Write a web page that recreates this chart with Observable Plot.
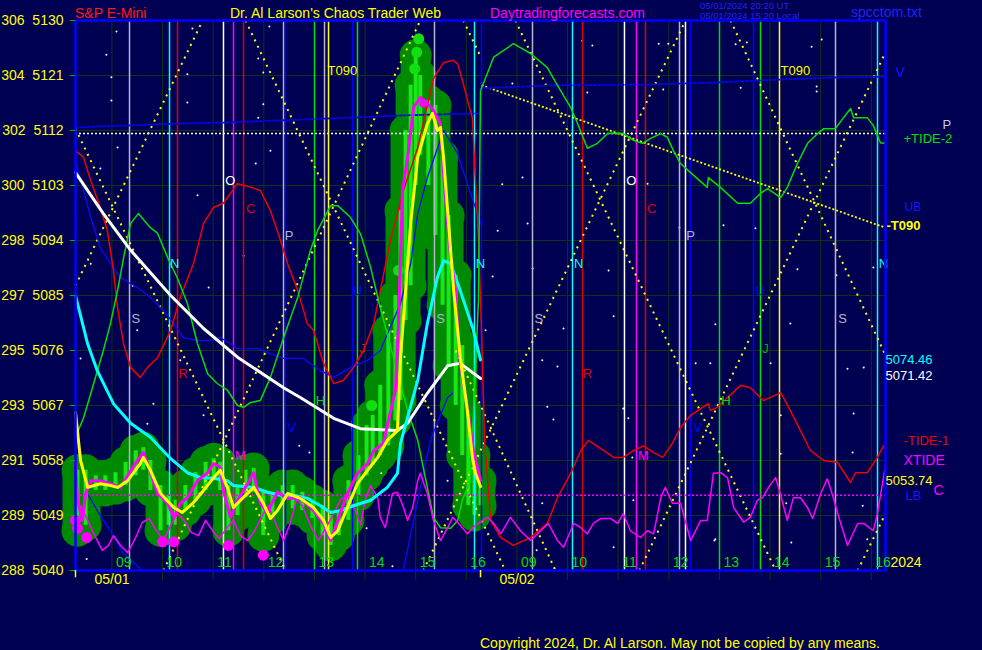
<!DOCTYPE html>
<html>
<head>
<meta charset="utf-8">
<script src="https://cdn.jsdelivr.net/npm/d3@7"></script>
<script src="https://cdn.jsdelivr.net/npm/@observablehq/plot@0.6"></script>
<style>
  html, body { margin:0; padding:0; background:#000052; }
  #wrap { position:relative; width:982px; height:650px; overflow:hidden; background:#000052;
          font-family:"Liberation Sans", Arial, sans-serif; }
  #chart { position:absolute; left:0; top:0; }
  .t { position:absolute; white-space:nowrap; font-size:14px; line-height:14px; }
  .s { font-size:9.5px; line-height:10px; }
</style>
</head>
<body>
<div id="wrap">
  <div id="chart"></div>
  <div class="t" style="left:75px;top:6px;color:#ff1a1a">S&amp;P E-Mini</div>
  <div class="t" style="left:230px;top:6px;color:#ffff00">Dr. Al Larson's Chaos Trader Web</div>
  <div class="t" style="left:490px;top:6px;color:#ff00ff">Daytradingforecasts.com</div>
  <div class="t s" style="left:700px;top:1px;color:#2020ff">05/01/2024 20:20 UT</div>
  <div class="t s" style="left:700px;top:11px;color:#2020ff">05/01/2024 15:20 Local</div>
  <div class="t" style="left:851px;top:5px;color:#2020ff">spcctom.txt</div>
  <div class="t" style="left:480px;top:636px;color:#ffff00">Copyright 2024, Dr. Al Larson. May not be copied by any means.</div>
</div>
<script>
// x = session hours (two 8-hour sessions: 05/01 then 05/02), y = S&P E-mini price
const yTicks = [5040, 5049, 5058, 5067, 5076, 5085, 5094, 5103, 5112, 5121, 5130];
const yLeftLabels = ["288", "289", "291", "293", "295", "297", "298", "300", "302", "304", "306"];
const hourLabels = [9, 10, 11, 12, 13, 14, 15, 16];
const dayLabels = ["05/01", "05/02"];
const sessionStartClock = 8.28; // clock hour at start of each session

// price bars: [t, low, high]
const bars = [[0.04,5046.5,5056.4],[0.20,5047.4,5056.4],[0.40,5053.1,5055.5],[0.59,5053.1,5055.5],[0.79,5053.4,5056.0],[0.99,5053.9,5057.7],[1.19,5055.5,5059.6],[1.34,5056.4,5060.1],[1.48,5053.1,5058.0],[1.68,5046.5,5053.9],[1.84,5047.4,5052.3],[1.98,5047.4,5051.5],[2.17,5049.8,5053.9],[2.37,5051.5,5056.0],[2.57,5053.1,5057.7],[2.73,5054.7,5058.3],[2.86,5053.1,5057.7],[3.02,5046.5,5053.9],[3.20,5049.0,5053.9],[3.36,5051.9,5056.4],[3.52,5052.8,5056.7],[3.71,5045.7,5053.1],[3.89,5048.5,5052.3],[4.09,5050.6,5053.9],[4.29,5050.1,5053.9],[4.48,5049.8,5052.8],[4.68,5048.5,5051.5],[4.88,5045.7,5050.6],[5.04,5044.1,5049.0],[5.20,5045.7,5049.8],[5.39,5048.2,5054.7],[5.59,5052.3,5058.8],[5.75,5055.5,5063.7],[5.87,5057.2,5065.4],[6.02,5058.8,5070.3],[6.18,5060.4,5079.3],[6.32,5064.5,5085.0],[6.42,5067.8,5098.9],[6.52,5080.9,5112.0],[6.62,5086.6,5119.4],[6.72,5103.0,5124.3],[6.81,5107.9,5121.0],[6.97,5103.0,5116.9],[7.11,5094.8,5116.1],[7.25,5083.4,5107.9],[7.37,5073.5,5098.1],[7.51,5067.0,5088.3],[7.64,5058.8,5076.8],[7.76,5050.6,5065.4],[7.88,5049.0,5058.8],[8.00,5050.6,5054.7]];
const limeDots = [[6.78,5127.0],[6.74,5124.8],[6.70,5122.1],[6.38,5089.1],[5.85,5067.0]];
const lowDots = [[0,5048.2],[0.04,5046.9],[0.22,5045.4],[1.72,5044.7],[1.94,5044.7],[3.02,5044.1],[3.71,5042.5]];
const highDots = [[6.87,5116.4]];

const priceLine = [[0,5058.0],[0.04,5051.5],[0.14,5048.2],[0.20,5052.6],[0.30,5054.7],[0.49,5054.7],[0.69,5054.2],[0.89,5053.6],[1.03,5055.5],[1.22,5058.0],[1.34,5059.3],[1.42,5057.5],[1.62,5052.6],[1.82,5051.0],[1.94,5048.7],[2.07,5051.0],[2.21,5051.9],[2.41,5054.7],[2.61,5056.0],[2.73,5057.5],[2.86,5056.9],[2.92,5053.1],[3.06,5048.7],[3.20,5051.5],[3.40,5054.2],[3.52,5056.0],[3.65,5051.0],[3.79,5049.5],[3.99,5052.8],[4.19,5051.8],[4.44,5051.9],[4.70,5049.8],[4.90,5047.7],[5.04,5044.9],[5.18,5048.2],[5.37,5052.6],[5.57,5055.9],[5.77,5057.5],[5.89,5059.6],[6.08,5060.8],[6.32,5069.5],[6.38,5080.4],[6.42,5091.2],[6.46,5102.2],[6.56,5107.6],[6.68,5115.8],[6.81,5117.4],[6.95,5116.4],[7.07,5115.3],[7.21,5113.1],[7.27,5105.0],[7.35,5096.8],[7.41,5091.2],[7.51,5085.8],[7.55,5079.3],[7.60,5073.9],[7.74,5066.7],[7.86,5059.6],[8.00,5054.7]];
const smoothLine = [[0,5065.9],[0.10,5058.0],[0.24,5053.6],[0.49,5054.2],[0.69,5053.9],[0.83,5053.6],[1.03,5054.7],[1.28,5057.5],[1.34,5058.5],[1.48,5056.4],[1.68,5052.6],[1.94,5050.3],[2.11,5049.5],[2.33,5051.1],[2.53,5053.1],[2.73,5055.2],[2.86,5056.4],[3.00,5053.6],[3.12,5050.3],[3.26,5051.5],[3.52,5053.6],[3.71,5051.0],[3.85,5048.5],[3.99,5049.8],[4.19,5052.6],[4.44,5051.8],[4.70,5050.3],[4.90,5048.2],[5.04,5045.4],[5.18,5046.5],[5.37,5050.3],[5.57,5054.2],[5.77,5056.4],[5.97,5058.5],[6.16,5061.3],[6.36,5062.9],[6.42,5074.9],[6.52,5085.8],[6.62,5096.8],[6.76,5107.6],[6.95,5113.1],[7.05,5114.8],[7.15,5112.0],[7.21,5112.5],[7.27,5107.6],[7.37,5096.8],[7.47,5085.8],[7.60,5074.9],[7.74,5066.2],[7.84,5058.5],[7.90,5055.9],[8.00,5053.74]];
const cyanAvg = [[0,5085.0],[0.24,5077.1],[0.43,5072.7],[0.75,5067.3],[1.09,5064.1],[1.48,5061.8],[1.88,5058.3],[2.21,5056.0],[2.47,5055.2],[2.73,5055.1],[3.00,5054.7],[3.12,5053.9],[3.52,5053.6],[3.79,5052.8],[4.05,5052.3],[4.31,5052.3],[4.58,5051.8],[4.84,5050.6],[5.04,5049.5],[5.23,5049.8],[5.49,5050.6],[5.83,5051.5],[6.16,5053.6],[6.36,5055.9],[6.42,5060.8],[6.76,5071.1],[6.95,5080.4],[7.15,5088.0],[7.27,5090.7],[7.41,5090.2],[7.60,5085.8],[7.86,5079.3],[8.00,5074.46]];
const whiteAvg = [[0,5105.1],[0.55,5098.4],[1.09,5092.4],[1.88,5085.0],[2.53,5079.6],[3.20,5074.9],[4.11,5069.9],[4.44,5068.3],[4.64,5067.3],[5.10,5064.9],[5.63,5063.2],[6.36,5062.9],[6.56,5064.1],[6.95,5069.0],[7.35,5073.5],[7.60,5073.9],[8.00,5071.42]];

const tide1 = [[0,5108.7],[0.16,5107.6],[0.30,5103.8],[0.49,5099.4],[0.63,5095.6],[0.75,5089.1],[0.83,5083.0],[0.95,5077.1],[1.09,5073.2],[1.28,5071.6],[1.42,5073.2],[1.62,5074.8],[1.88,5079.3],[2.07,5084.7],[2.33,5090.2],[2.53,5096.8],[2.73,5099.4],[2.92,5100.1],[3.06,5101.7],[3.20,5103.3],[3.46,5102.7],[3.65,5102.2],[3.85,5098.9],[4.05,5094.0],[4.19,5090.2],[4.39,5085.8],[4.58,5080.4],[4.70,5079.3],[4.90,5073.9],[5.10,5070.6],[5.29,5071.1],[5.49,5073.2],[5.69,5076.0],[5.89,5080.4],[6.22,5094.0],[6.48,5102.2],[6.76,5109.2],[7.07,5120.5],[7.27,5123.1],[7.45,5123.5],[7.55,5122.9],[7.66,5119.7],[7.76,5116.4],[7.84,5114.1],[7.90,5103.8],[7.96,5094.0],[8.02,5079.3],[8.08,5061.3],[8.20,5048.2],[8.40,5045.4],[8.65,5044.1],[8.99,5045.4],[9.32,5047.7],[9.52,5051.9],[9.78,5055.9],[9.98,5059.6],[10.13,5061.3],[10.51,5059.2],[10.63,5058.5],[10.82,5058.5],[11.02,5059.6],[11.22,5060.4],[11.42,5059.3],[11.60,5058.5],[11.79,5060.8],[11.95,5063.4],[12.15,5065.4],[12.50,5067.3],[12.54,5066.2],[12.68,5066.7],[12.88,5068.3],[13.14,5070.3],[13.33,5069.9],[13.59,5067.8],[13.93,5069.1],[14.12,5066.2],[14.32,5062.9],[14.52,5059.6],[14.78,5058.0],[15.05,5057.7],[15.31,5054.4],[15.41,5056.0],[15.64,5056.0],[15.84,5058.5],[15.96,5060.4]];
const tide2 = [[0,5061.8],[0.16,5065.0],[0.36,5070.6],[0.55,5076.0],[0.69,5080.4],[0.83,5085.8],[0.95,5091.2],[1.09,5096.8],[1.24,5098.4],[1.48,5096.1],[1.62,5095.2],[1.82,5091.2],[2.01,5087.9],[2.21,5083.7],[2.41,5077.1],[2.61,5072.2],[2.80,5070.6],[3.00,5069.5],[3.20,5067.0],[3.32,5066.7],[3.46,5067.5],[3.65,5067.8],[3.85,5071.6],[4.11,5078.1],[4.39,5084.7],[4.64,5092.4],[4.78,5095.6],[5.04,5099.7],[5.18,5099.7],[5.43,5097.8],[5.63,5095.1],[5.83,5089.6],[6.02,5083.0],[6.28,5074.9],[6.56,5066.2],[6.76,5061.3],[7.07,5048.7],[7.21,5047.0],[7.41,5046.9],[7.55,5048.2],[7.64,5051.5],[7.80,5054.7],[7.96,5084.2],[8.00,5118.5],[8.26,5124.0],[8.65,5126.2],[8.99,5124.6],[9.32,5122.3],[9.52,5119.4],[9.78,5115.8],[9.92,5113.1],[10.11,5109.1],[10.31,5109.9],[10.51,5111.5],[10.82,5111.5],[11.02,5110.4],[11.20,5109.9],[11.36,5110.7],[11.56,5111.5],[11.69,5110.9],[11.81,5108.7],[11.95,5106.6],[12.15,5105.1],[12.48,5102.7],[12.50,5104.3],[12.74,5102.7],[13.08,5100.1],[13.33,5100.1],[13.53,5101.7],[13.67,5102.5],[13.93,5101.0],[14.06,5102.7],[14.26,5106.6],[14.46,5109.9],[14.66,5111.5],[14.78,5112.3],[15.01,5112.3],[15.17,5114.1],[15.31,5115.6],[15.37,5114.1],[15.64,5114.1],[15.76,5112.8],[15.90,5110.0],[15.98,5109.9]];
const blueA = [[0,5107.1],[0.16,5102.2],[0.30,5097.8],[0.49,5092.8],[0.69,5090.2],[0.89,5087.9],[1.22,5086.3],[1.48,5084.7],[1.74,5082.5],[1.94,5080.4],[2.13,5078.1],[2.41,5077.6],[2.67,5077.6],[2.86,5078.1],[3.06,5077.1],[3.20,5076.3],[3.60,5076.3],[3.85,5075.5],[4.11,5074.7],[4.50,5074.7],[4.84,5072.7],[5.10,5071.6],[5.43,5073.2],[5.77,5074.4],[6.02,5076.0],[6.42,5083.7],[6.62,5090.2],[6.76,5098.4],[6.95,5104.3],[7.27,5112.0],[7.55,5108.2],[7.74,5103.3],[7.94,5098.4],[8.02,5096.5]];
const blueB = [[0.26,5052.3],[0.43,5049.8],[0.69,5046.5],[0.95,5042.8],[1.28,5040.3]];
const blueC = [[6.48,5040.3],[6.72,5049.8],[7.01,5061.3],[7.35,5068.3],[7.45,5069.0]];
const xtide = [[0.10,5050.6],[0.26,5047.9],[0.41,5045.2],[0.53,5043.3],[0.65,5044.1],[0.75,5045.7],[0.89,5044.1],[1.03,5042.9],[1.19,5045.4],[1.32,5047.9],[1.46,5048.5],[1.60,5046.5],[1.74,5044.9],[1.88,5047.4],[2.01,5049.3],[2.15,5048.2],[2.29,5046.2],[2.43,5045.7],[2.57,5048.2],[2.71,5046.5],[2.84,5045.2],[2.98,5046.9],[3.12,5048.2],[3.26,5045.7],[3.40,5044.9],[3.54,5046.5],[3.69,5049.0],[3.81,5050.6],[3.97,5047.4],[4.11,5044.9],[4.25,5047.9],[4.37,5051.8],[4.48,5050.6],[4.64,5047.4],[4.80,5044.9],[4.94,5046.9],[5.08,5049.0],[5.23,5051.5],[5.37,5052.3],[5.53,5049.8],[5.63,5047.4],[5.73,5051.8],[5.83,5053.9],[5.97,5051.9],[6.02,5048.7],[6.12,5047.0],[6.26,5052.6],[6.36,5052.8],[6.48,5050.3],[6.56,5048.2],[6.66,5050.3],[6.76,5054.7],[6.81,5055.9],[6.95,5052.6],[7.07,5048.2],[7.21,5044.9],[7.35,5047.0],[7.45,5048.7],[7.60,5047.4],[7.74,5046.0],[7.90,5047.4],[8.14,5048.7],[8.26,5047.7],[8.40,5046.0],[8.59,5048.7],[8.79,5046.5],[8.99,5044.9],[9.19,5046.5],[9.34,5047.7],[9.52,5044.9],[9.64,5043.8],[9.84,5047.7],[9.98,5047.0],[10.11,5046.0],[10.23,5047.7],[10.37,5048.5],[10.57,5048.5],[10.71,5047.7],[10.82,5049.3],[10.96,5046.5],[11.16,5045.4],[11.30,5046.5],[11.42,5046.0],[11.56,5051.9],[11.65,5053.6],[11.79,5051.0],[11.95,5051.0],[12.15,5044.9],[12.35,5048.2],[12.48,5048.2],[12.60,5055.9],[12.74,5056.0],[12.88,5055.2],[13.00,5050.3],[13.20,5047.9],[13.33,5048.7],[13.47,5051.5],[13.57,5051.9],[13.69,5053.6],[13.83,5055.2],[13.93,5052.3],[14.06,5048.2],[14.18,5051.9],[14.32,5051.9],[14.46,5050.3],[14.56,5048.5],[14.72,5052.6],[14.85,5055.0],[14.97,5051.9],[15.05,5049.5],[15.25,5044.1],[15.45,5047.7],[15.57,5047.7],[15.76,5046.5],[15.84,5049.3],[15.94,5054.2],[16.00,5057.2]];

// dotted levels and trend lines
const levelP = 5111.5;      // white dotted
const levelC = 5052.3;      // magenta dotted
const blueDotted1 = [[0,5112.5],[1.88,5113.1],[2.92,5113.3],[4.50,5113.8],[6.56,5114.5],[8.00,5114.8]];
const blueDotted2 = [[8.02,5118.9],[9.44,5119.4],[11.16,5119.5],[12.48,5119.8],[13.79,5120.3],[15.11,5120.7],[16,5120.8]];
const t090Line = [[8.02,5119.4,16,5096.1]];
// diagonal dotted angle lines: [t1, p1, t2, p2]
const angleLines = [[0,5112.3,4.15,5040],[0,5086.6,2.51,5130],[3.36,5130,8.49,5040],[1.74,5040,6.81,5130],[7.66,5130,8.02,5123.8],[7.51,5076.0,9.48,5040],[6.87,5040,12.05,5130],[8.69,5130,13.83,5040],[12.94,5130,16,5075.2],[11.14,5040,16,5124.8],[15.45,5040,16,5049.3]];

// vertical event lines [t, kind]
const eventLines = [[1.067,"silver"],[1.857,"cyan"],[2.015,"red"],[2.923,"white"],[3.121,"magenta"],[3.319,"red"],[4.109,"silver"],[4.148,"blue"],[4.721,"green"],[4.919,"silver"],[4.998,"yellow"],[5.472,"blue"],[5.570,"green"],[7.091,"silver"],[7.881,"cyan"],[8.020,"blue"],[9.027,"silver"],[9.817,"cyan"],[10.015,"red"],[10.844,"white"],[11.081,"magenta"],[11.259,"red"],[11.931,"silver"],[12.049,"white"],[12.148,"blue"],[12.721,"green"],[13.393,"blue"],[13.531,"green"],[13.906,"yellow"],[15.012,"silver"],[15.842,"cyan"]];
// letters [text, t, price, kind]
const letters = [["S",1.19,5081.2,"silver"],["N",1.96,5090.2,"cyan"],["O",3.06,5103.8,"white"],["C",3.46,5099.2,"red"],["P",4.22,5094.8,"silver"],["R",2.12,5072.2,"red"],["H",4.84,5067.8,"green"],["M",3.26,5058.8,"magenta"],["U",5.57,5085.8,"blue"],["J",5.67,5076.3,"jred"],["V",4.27,5063.4,"blue"],["T090",5.27,5121.8,"yellow"],["S",7.21,5081.2,"silver"],["N",8.0,5090.2,"cyan"],
  ["S",9.15,5081.2,"silver"],["N",9.94,5090.2,"cyan"],["O",10.98,5103.8,"white"],["C",11.38,5099.2,"red"],["P",12.15,5094.8,"silver"],["R",10.11,5072.2,"red"],["M",11.22,5058.8,"magenta"],["H",12.85,5067.8,"green"],["U",13.53,5085.8,"blue"],["J",13.63,5076.3,"jgreen"],["V",12.29,5063.4,"blue"],["T090",14.22,5121.8,"yellow"],["S",15.15,5081.2,"silver"],["N",15.96,5090.2,"cyan"]];

const stars = [[0.81,5128.2],[0.61,5124.4],[0.71,5120.7],[0.71,5116.9],[2.31,5128.7],[2.21,5121.2],[2.21,5116.6],[3.83,5129.0],[3.61,5123.8],[3.71,5121.5],[3.71,5116.3],[3.61,5114.1],[0.83,5109.2],[0.49,5105.8],[2.41,5101.4],[3.32,5091.5],[2.63,5086.3],[1.13,5086.6],[1.22,5079.3],[0.30,5090.2],[0.10,5074.7],[1.54,5067.3],[1.42,5064.0],[2.53,5065.4],[2.07,5074.4],[3.56,5106.6],[3.85,5108.7],[11.52,5126.2],[11.71,5126.2],[11.61,5118.7],[13.14,5119.0],[13.04,5126.1],[13.26,5126.4],[14.54,5125.7],[14.74,5126.9],[14.64,5119.2],[14.64,5118.4],[10.01,5126.7],[10.21,5125.9],[8.63,5119.7],[10.11,5118.2],[8.83,5104.3],[8.43,5103.2],[8.93,5096.8],[8.34,5095.6],[10.53,5089.1],[9.03,5089.4],[8.24,5088.1],[10.63,5081.6],[8.10,5079.3],[9.64,5079.6],[9.52,5073.4],[9.22,5074.4],[10.82,5066.5],[9.32,5066.8],[9.44,5064.7],[10.92,5064.9],[11.93,5096.1],[11.30,5103.3],[12.80,5096.5],[13.43,5096.0],[14.26,5089.3],[15.76,5089.6],[15.03,5088.3],[12.64,5080.3],[14.12,5080.4],[12.25,5073.9],[12.54,5073.9],[13.73,5073.9],[15.25,5073.0],[15.57,5073.2],[15.37,5065.7],[13.93,5065.4],[15.35,5059.3],[13.93,5059.1],[12.64,5045.1],[15.64,5045.1],[11.00,5058.5],[10.63,5043.8],[9.11,5043.3],[9.22,5051.0],[11.02,5051.5],[5.75,5046.9],[6.04,5055.9],[6.26,5040.7],[7.35,5054.7],[14.04,5051.0],[15.55,5050.6],[14.14,5044.6],[12.62,5044.9],[4.42,5060.4],[4.62,5059.3],[0.22,5041.9]];

// right-edge value labels
const lastCyan = 5074.46, lastWhite = 5071.42, lastClose = 5053.74;

const col = {silver:"#b4b4cc", white:"#ffffff", cyan:"#00ffff", red:"#e00000", magenta:"#ff00ff",
  blue:"#0000ff", green:"#00e000", yellow:"#ffff00", jred:"#c82000", jgreen:"#00b000"};
const grid = "#0d3510";

const hourTicks = [];
for (let d = 0; d < 2; d++) for (const h of hourLabels) hourTicks.push({t: d * 8 + h - sessionStartClock, label: String(h).padStart(2, "0")});
const dayTicks = dayLabels.map((s, d) => ({t: d * 8 + 9 - sessionStartClock, label: s}));
const barEnds = bars.flatMap(d => [[d[0], d[1]], [d[0], d[2]]]);

const X = d => d[0], Y = d => d[1];
const fmtLeft = v => yLeftLabels[yTicks.indexOf(v)] + "\u00a0\u00a0" + v;

const plot = Plot.plot({
  width: 982, height: 650,
  marginLeft: 75, marginRight: 97, marginTop: 20, marginBottom: 80,
  x: {domain: [0, 16], axis: null},
  y: {domain: [5040, 5130], axis: null},
  style: {background: "transparent", fontFamily: "Liberation Sans, Arial, sans-serif", fontSize: "14px", overflow: "visible"},
  marks: [
    Plot.ruleY(yTicks, {x1: 0, x2: 16, stroke: grid, strokeWidth: 1}),
    Plot.ruleX(hourTicks, {x: "t", y1: 5038.35, y2: 5130, stroke: grid, strokeWidth: 1}),
    // price blobs and bars
    Plot.ruleX(bars, {x: X, y1: d => d[1], y2: d => d[2], stroke: "#008a00", strokeWidth: 30, strokeLinecap: "round"}),
    Plot.dot(barEnds, {x: X, y: Y, r: 16, fill: "#008a00"}),
    Plot.ruleX(bars, {x: X, y1: d => d[1], y2: d => d[2], stroke: "#18e818", strokeWidth: 4}),
    Plot.dot(limeDots, {x: X, y: Y, r: 5.5, fill: "#10e010"}),
    // stars
    Plot.dot(stars, {x: X, y: Y, r: 1, fill: "#ffffff"}),
    // event lines
    Plot.ruleX(eventLines, {x: X, y1: 5040, y2: 5130, stroke: d => col[d[1]], strokeWidth: 1.5}),
    // angle lines
    Plot.link(angleLines, {x1: d => d[0], y1: d => d[1], x2: d => d[2], y2: d => d[3], stroke: "#ffff00", strokeWidth: 2, strokeDasharray: "2,5"}),
    Plot.link(t090Line, {x1: d => d[0], y1: d => d[1], x2: d => d[2], y2: d => d[3], stroke: "#ffff00", strokeWidth: 1.8, strokeDasharray: "2,2"}),
    // levels
    Plot.ruleY([levelP], {x1: 0, x2: 16, stroke: "#ffffff", strokeWidth: 1.5, strokeDasharray: "2,2"}),
    Plot.ruleY([levelC], {x1: 0.1, x2: 16, stroke: "#ff00ff", strokeWidth: 1.5, strokeDasharray: "2,2"}),
    Plot.line(blueDotted1, {x: X, y: Y, stroke: "#0000ff", strokeWidth: 1.8, strokeDasharray: "2,2"}),
    Plot.line(blueDotted2, {x: X, y: Y, stroke: "#0000ff", strokeWidth: 1.8, strokeDasharray: "2,2"}),
    // tides
    Plot.line(blueA, {x: X, y: Y, stroke: "#0a0aff", strokeWidth: 1.3}),
    Plot.line(blueB, {x: X, y: Y, stroke: "#0a0aff", strokeWidth: 1.3}),
    Plot.line(blueC, {x: X, y: Y, stroke: "#0a0aff", strokeWidth: 1.3}),
    Plot.line(tide1, {x: X, y: Y, stroke: "#f00000", strokeWidth: 1.5}),
    Plot.line(tide2, {x: X, y: Y, stroke: "#00e000", strokeWidth: 1.5}),
    Plot.line(xtide, {x: X, y: Y, stroke: "#ff00ff", strokeWidth: 1.5}),
    // averages and price
    Plot.line(whiteAvg, {x: X, y: Y, stroke: "#ffffff", strokeWidth: 3}),
    Plot.line(cyanAvg, {x: X, y: Y, stroke: "#00ffff", strokeWidth: 3}),
    Plot.line(priceLine, {x: X, y: Y, stroke: "#ff00ff", strokeWidth: 3}),
    Plot.line(smoothLine, {x: X, y: Y, stroke: "#ffff00", strokeWidth: 3}),
    Plot.dot(lowDots, {x: X, y: Y, r: 5.5, fill: "#ff00ff"}),
    Plot.dot(highDots, {x: X, y: Y, r: 4, fill: "#ff00ff"}),
    // letters
    Plot.text(letters, {x: d => d[1], y: d => d[2], text: d => d[0], fill: d => col[d[3]], fontSize: 13}),
    // frame
    Plot.frame({stroke: "#0000ff", strokeWidth: 2.5}),
    // left axis: green ticks + yellow double labels
    Plot.axisY({ticks: yTicks, tickSize: 5, tickFormat: () => "", stroke: "#00b000", color: "#00b000", label: null}),
    Plot.axisY({ticks: yTicks, tickSize: 0, tickPadding: 12, tickFormat: fmtLeft, color: "#ffff00", fontSize: 14, label: null}),
    // hour labels inside bottom, day ticks and dates below
    Plot.text(hourTicks, {x: "t", y: 5040, text: "label", fill: "#00dd00", textAnchor: "start", dx: 4, dy: -8, fontSize: 14}),
    Plot.ruleX(dayTicks.map(d => d.t - (9 - sessionStartClock)), {y1: 5040, y2: 5038.8, stroke: "#ffff00", strokeWidth: 1.5}),
    Plot.text(dayTicks, {x: "t", y: 5040, text: "label", fill: "#ffff00", dy: 9, fontSize: 14}),
    // right labels
    Plot.text([5121.5], {x: 16, y: d => d, text: () => "V", fill: "#1515ff", textAnchor: "start", dx: 10, fontSize: 14}),
    Plot.text([levelP], {x: 16, y: d => d, text: () => "P", fill: "#c8c8e0", textAnchor: "start", dx: 57, dy: -9, fontSize: 13}),
    Plot.text([tide2[tide2.length - 1][1]], {x: 16, y: d => d, text: () => "+TIDE-2", fill: "#00e000", textAnchor: "start", dx: 18, dy: -5, fontSize: 13}),
    Plot.text([5097.8], {x: 16, y: d => d, text: () => "UB", fill: "#1515ff", textAnchor: "start", dx: 19, dy: -10, fontSize: 12}),
    Plot.text([t090Line[0][3]], {x: 16, y: d => d, text: () => "-T090", fill: "#ffff00", textAnchor: "start", dx: 1, dy: -2, fontSize: 13, fontWeight: "bold"}),
    Plot.text([lastCyan], {x: 16, y: d => d, text: d => d.toFixed(2), fill: "#00ffff", textAnchor: "start", dx: 0, fontSize: 13}),
    Plot.text([lastWhite], {x: 16, y: d => d, text: d => d.toFixed(2), fill: "#ffffff", textAnchor: "start", dx: 0, dy: -3, fontSize: 13}),
    Plot.text([tide1[tide1.length - 1][1]], {x: 16, y: d => d, text: () => "-TIDE-1", fill: "#f00000", textAnchor: "start", dx: 18, dy: -5, fontSize: 13}),
    Plot.text([5058.0], {x: 16, y: d => d, text: () => "XTIDE", fill: "#ff00ff", textAnchor: "start", dx: 18, fontSize: 14}),
    Plot.text([lastClose], {x: 16, y: d => d, text: d => d.toFixed(2), fill: "#ffff00", textAnchor: "start", dx: 0, dy: -6, fontSize: 13}),
    Plot.text([5052.6], {x: 16, y: d => d, text: () => "LB", fill: "#1515ff", textAnchor: "start", dx: 20, dy: 2, fontSize: 13}),
    Plot.text([5053.1], {x: 16, y: d => d, text: () => "C", fill: "#ff00ff", textAnchor: "start", dx: 48, fontSize: 14}),
    Plot.text([5041.3], {x: 16, y: d => d, text: () => "2024", fill: "#ffff00", textAnchor: "start", dx: 5, fontSize: 14})
  ]
});
document.getElementById("chart").appendChild(plot);
</script>
</body>
</html>
